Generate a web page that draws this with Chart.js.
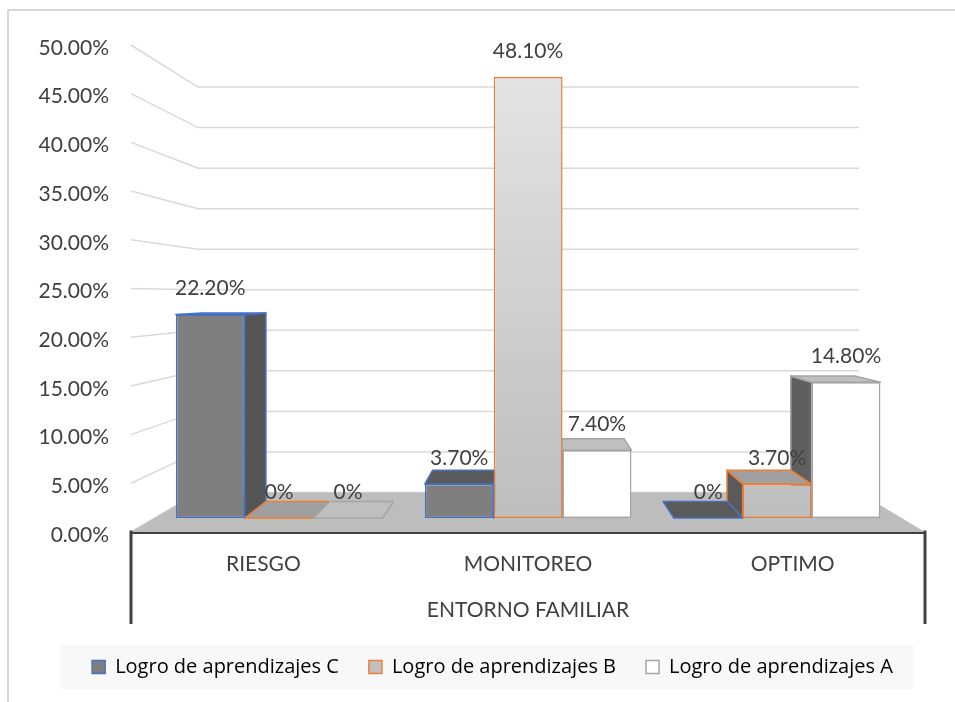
<!DOCTYPE html>
<html>
<head>
<meta charset="utf-8">
<script src="https://cdn.jsdelivr.net/npm/chart.js@4.4.1/dist/chart.umd.min.js"></script>
<style>
  html, body { margin: 0; padding: 0; background: #fff; }
  #wrap { width: 955px; height: 702px; }
</style>
</head>
<body>
<div id="wrap"><canvas id="chart" width="955" height="702"></canvas></div>
<script>
const categories = ["RIESGO", "MONITOREO", "OPTIMO"];
const seriesNames = ["Logro de aprendizajes C", "Logro de aprendizajes B", "Logro de aprendizajes A"];
const logroC = [22.2, 3.7, 0];
const logroB = [0, 48.1, 3.7];
const logroA = [0, 7.4, 14.8];
const axisTitle = "ENTORNO FAMILIAR";
const yMin = 0;
const yMax = 50;
const yStep = 5;

// fake 3d: everything recedes toward one vanishing point
const VP = { x: 531, y: 296 };
const WALL_DEPTH = 0.1675;
const BAR_DEPTH = 0.074;
const textColor = "#404040";
const mainFont = { family: "Lato", size: 21 };

const faceColors = [
  { front: "#7f7f7f", top: "#5a5a5a", side: "#555555", line: "#4472c4" },
  { front: "#c0c0c0", top: "#a0a0a0", side: "#5a5a5a", line: "#ed7d31" },
  { front: "#ffffff", top: "#bfbfbf", side: "#5f5f5f", line: "#a5a5a5" },
];

function toward(x, y, k) {
  return [x + (VP.x - x) * k, y + (VP.y - y) * k];
}

function face(ctx, pts, fill, line) {
  ctx.beginPath();
  ctx.moveTo(pts[0][0], pts[0][1]);
  for (let i = 1; i < pts.length; i++) ctx.lineTo(pts[i][0], pts[i][1]);
  ctx.closePath();
  ctx.fillStyle = fill;
  ctx.fill();
  ctx.strokeStyle = line;
  ctx.stroke();
}

function points(values) {
  return values.map((v, i) => ({ x: i, y: v }));
}

function greyGradient(context) {
  const chart = context.chart;
  const area = chart.chartArea;
  if (!area) return faceColors[1].front;
  const g = chart.ctx.createLinearGradient(0, area.top, 0, area.bottom);
  g.addColorStop(0, "#e6e6e6");
  g.addColorStop(1, "#bcbcbc");
  return g;
}

const depthPlugin = {
  id: "depth",
  beforeDraw(chart) {
    const ctx = chart.ctx;
    ctx.save();
    ctx.strokeStyle = "#cccccc";
    ctx.lineWidth = 1.5;
    ctx.beginPath();
    ctx.moveTo(8, 702);
    ctx.lineTo(8, 10);
    ctx.lineTo(955, 10);
    ctx.stroke();
    const boxes = chart.legend && chart.legend.legendHitBoxes;
    if (boxes && boxes.length) {
      const first = boxes[0];
      const last = boxes[boxes.length - 1];
      ctx.fillStyle = "#f8f8f8";
      ctx.fillRect(first.left - 32, first.top - 12,
        last.left + last.width - first.left + 53, first.height + 24);
    }
    ctx.restore();
  },
  beforeDatasetsDraw(chart) {
    const ctx = chart.ctx;
    const x = chart.scales.x;
    const y = chart.scales.y;
    const L = x.left;
    const R = x.right;
    ctx.save();
    // side wall + back wall grid
    ctx.strokeStyle = "#d9d9d9";
    ctx.lineWidth = 1.5;
    y.ticks.forEach((t) => {
      const py = y.getPixelForValue(t.value);
      const back = toward(L, py, WALL_DEPTH);
      const backR = toward(R, py, WALL_DEPTH);
      ctx.beginPath();
      ctx.moveTo(L, py);
      ctx.lineTo(back[0], back[1]);
      ctx.lineTo(backR[0], back[1]);
      ctx.stroke();
    });
    // floor
    const fy = y.getPixelForValue(0);
    const bl = toward(L, fy, WALL_DEPTH);
    const br = toward(R, fy, WALL_DEPTH);
    ctx.fillStyle = "#bdbdbd";
    ctx.beginPath();
    ctx.moveTo(L, fy);
    ctx.lineTo(R, fy);
    ctx.lineTo(br[0], br[1]);
    ctx.lineTo(bl[0], bl[1]);
    ctx.closePath();
    ctx.fill();

    // top and side faces, farthest from the eye first
    const bars = [];
    chart.data.datasets.forEach((ds, di) => {
      chart.getDatasetMeta(di).data.forEach((el) => bars.push({ el, c: faceColors[di] }));
    });
    bars.sort((a, b) => Math.abs(b.el.x - VP.x) - Math.abs(a.el.x - VP.x));
    ctx.lineWidth = 1.5;
    ctx.lineJoin = "round";
    bars.forEach(({ el, c }) => {
      const l = el.x - el.width / 2;
      const r = el.x + el.width / 2;
      const t = Math.min(el.y, el.base);
      const b = Math.max(el.y, el.base);
      if (b - t > 1) {
        let sx = null;
        if (r < VP.x) sx = r;
        else if (l > VP.x) sx = l;
        if (sx !== null) {
          face(ctx, [[sx, t], [sx, b], toward(sx, b, BAR_DEPTH), toward(sx, t, BAR_DEPTH)], c.side, c.line);
        }
      }
      if (t > VP.y) {
        face(ctx, [[l, t], [r, t], toward(r, t, BAR_DEPTH), toward(l, t, BAR_DEPTH)], c.top, c.line);
      }
    });
    ctx.restore();
  },
  afterDatasetsDraw(chart) {
    const ctx = chart.ctx;
    ctx.save();
    ctx.font = mainFont.size + "px " + mainFont.family;
    ctx.fillStyle = textColor;
    ctx.textAlign = "center";
    ctx.textBaseline = "middle";
    chart.data.datasets.forEach((ds, di) => {
      chart.getDatasetMeta(di).data.forEach((el, i) => {
        const v = ds.data[i].y;
        ctx.fillText(v === 0 ? "0%" : v.toFixed(2) + "%", el.x, el.y - 26);
      });
    });
    // outer ticks of the multi-level category axis
    const x = chart.scales.x;
    ctx.strokeStyle = textColor;
    ctx.lineWidth = 3;
    [x.left, x.right].forEach((px) => {
      ctx.beginPath();
      ctx.moveTo(px, x.top - 1.5);
      ctx.lineTo(px, x.top + 92);
      ctx.stroke();
    });
    ctx.restore();
  },
};

new Chart(document.getElementById("chart"), {
  type: "bar",
  data: {
    labels: categories,
    datasets: seriesNames.map((name, i) => ({
      label: name,
      data: points([logroC, logroB, logroA][i]),
      xAxisID: "xb",
      yAxisID: "yb",
      backgroundColor: i === 1 ? greyGradient : faceColors[i].front,
      borderColor: faceColors[i].line,
      borderWidth: 1.5,
      borderSkipped: false,
      categoryPercentage: 0.83,
      barPercentage: 1,
    })),
  },
  options: {
    responsive: false,
    devicePixelRatio: 1,
    animation: false,
    layout: { padding: { left: 30, top: 45, right: 0, bottom: 15 } },
    scales: {
      x: {
        type: "category",
        labels: categories,
        offset: true,
        grid: { display: false, drawTicks: false },
        border: { display: true, color: textColor, width: 3 },
        ticks: { font: mainFont, color: textColor, padding: 20 },
        title: { display: true, text: axisTitle, font: mainFont, color: textColor, padding: { top: 4, bottom: 4.4 } },
        afterFit: (s) => { s.height = 95; },
      },
      y: {
        type: "linear",
        position: "left",
        min: yMin,
        max: yMax,
        ticks: {
          stepSize: yStep,
          font: mainFont,
          color: textColor,
          padding: 22,
          labelOffset: 3,
          callback: (v) => v.toFixed(2) + "%",
        },
        grid: { display: false, drawTicks: false },
        border: { display: false },
        afterFit: (s) => { s.width = 101; },
      },
      xb: {
        type: "linear",
        display: false,
        offset: false,
        min: -0.595,
        max: 2.594,
        afterBuildTicks: (s) => { s.ticks = categories.map((c, i) => ({ value: i })); },
      },
      yb: {
        type: "linear",
        position: "right",
        min: -1.53,
        max: 51.6,
        ticks: { display: false },
        grid: { display: false, drawTicks: false },
        border: { display: false },
        afterFit: (s) => { s.width = 30; },
      },
    },
    plugins: {
      tooltip: { enabled: false },
      legend: {
        position: "bottom",
        labels: {
          font: { family: "Open Sans", size: 20 },
          color: textColor,
          boxWidth: 13,
          boxHeight: 13,
          padding: 30,
          generateLabels: () => seriesNames.map((name, i) => ({
            text: name,
            fillStyle: faceColors[i].front,
            strokeStyle: faceColors[i].line,
            lineWidth: 1.5,
            datasetIndex: i,
          })),
        },
      },
    },
  },
  plugins: [depthPlugin],
});
</script>
</body>
</html>
